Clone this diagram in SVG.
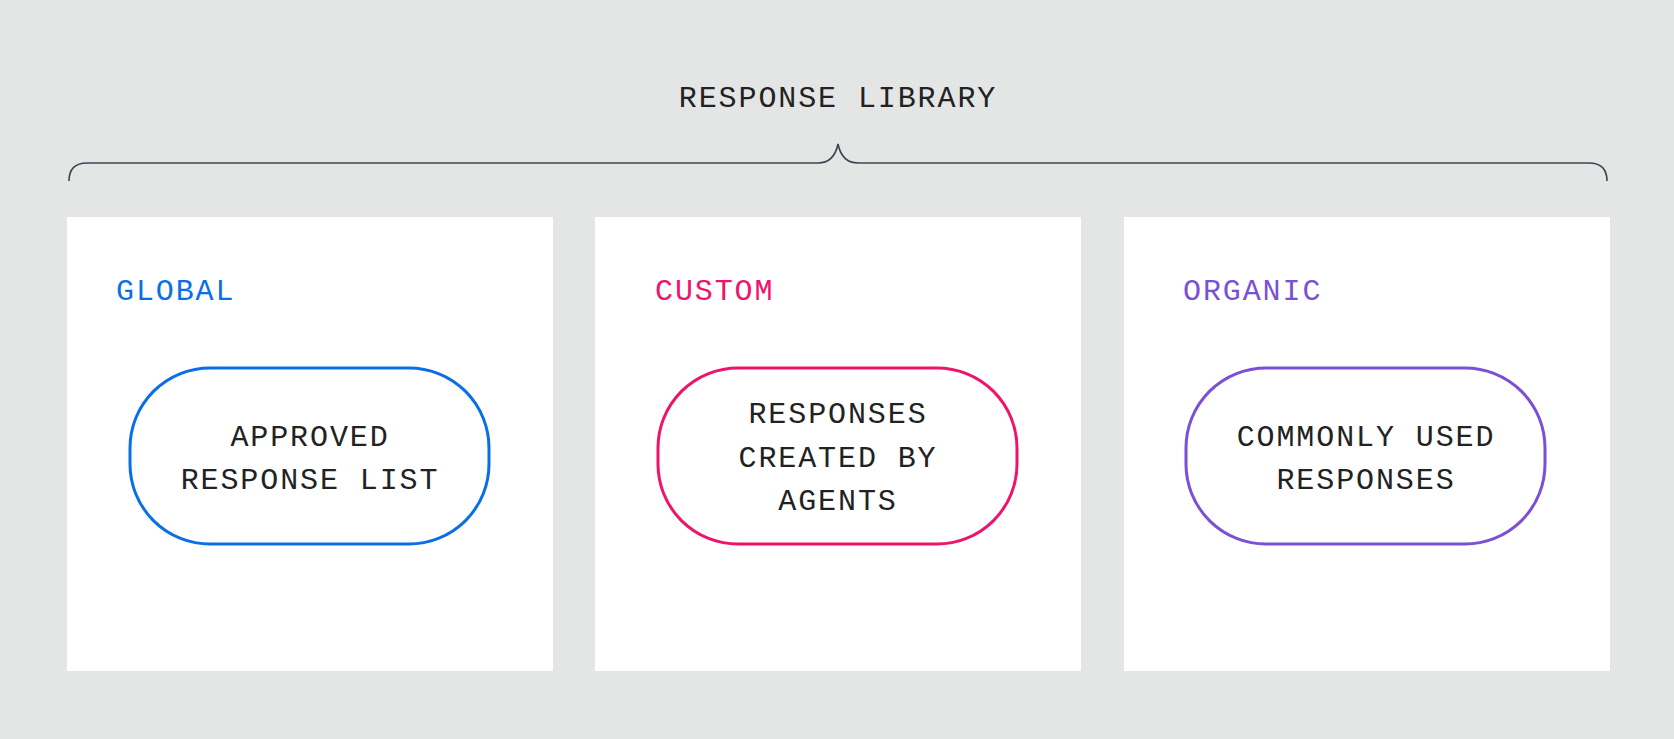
<svg xmlns="http://www.w3.org/2000/svg" width="1674" height="739" viewBox="0 0 1674 739">
<style>
.t{font-family:"Liberation Mono","DejaVu Sans Mono",monospace;font-size:30px;letter-spacing:1.9px;fill:#222;text-anchor:middle}
.lbl{font-family:"Liberation Mono","DejaVu Sans Mono",monospace;font-size:30px;letter-spacing:1.9px}
.card{fill:#fff}
.pill{fill:#fff;stroke-width:3}
</style>
<rect width="1674" height="739" fill="#e4e6e5"/>
<text class="t" x="838" y="107" fill="#111">RESPONSE LIBRARY</text>
<g id="connectors">
<path d="M69 181 Q69 163 87 163 L818 163 Q834 163 838 144 Q842 163 858 163 L1589 163 Q1607 163 1607 181" fill="none" stroke="#3d4450" stroke-width="1.6"/>
</g>
<g id="global">
<rect class="card" x="67" y="217" width="486" height="454"/>
<text class="lbl" x="116" y="300" fill="#0a6fe6">GLOBAL</text>
<rect class="pill" x="130" y="368" width="359" height="176" rx="80" stroke="#0a6fe6"/>
<text class="t" x="310" y="446">APPROVED</text>
<text class="t" x="310" y="489">RESPONSE LIST</text>
</g>
<g id="custom">
<rect class="card" x="595" y="217" width="486" height="454"/>
<text class="lbl" x="655" y="300" fill="#f0136b">CUSTOM</text>
<rect class="pill" x="658" y="368" width="359" height="176" rx="80" stroke="#f0136b"/>
<text class="t" x="838" y="423">RESPONSES</text>
<text class="t" x="838" y="467">CREATED BY</text>
<text class="t" x="838" y="510">AGENTS</text>
</g>
<g id="organic">
<rect class="card" x="1124" y="217" width="486" height="454"/>
<text class="lbl" x="1183" y="300" fill="#7b4fd6">ORGANIC</text>
<rect class="pill" x="1186" y="368" width="359" height="176" rx="80" stroke="#7b4fd6"/>
<text class="t" x="1366" y="446">COMMONLY USED</text>
<text class="t" x="1366" y="489">RESPONSES</text>
</g>
</svg>
